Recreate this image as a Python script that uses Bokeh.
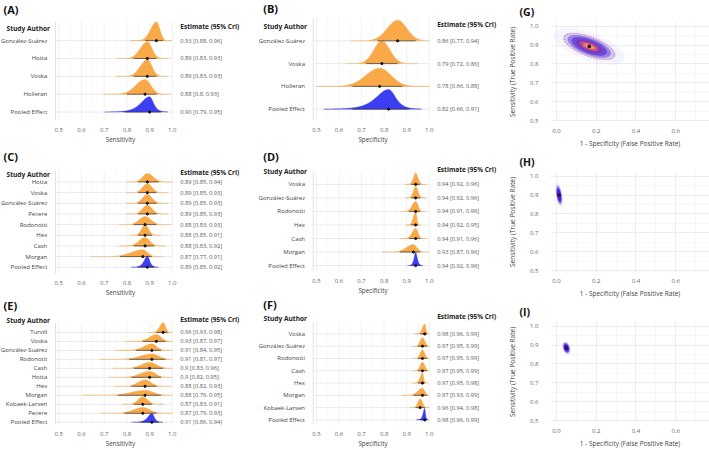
import numpy as np
from bokeh.plotting import figure
from bokeh.models import Range1d, FixedTicker, PrintfTickFormatter
from bokeh.layouts import row, column
from bokeh.embed import file_html
from bokeh.resources import INLINE
from bokeh.core.properties import value

FONT = "Open Sans"

# ---------------- data ----------------
forest_ticks = [0.5, 0.6, 0.7, 0.8, 0.9, 1.0]
forest_minor = [0.55, 0.65, 0.75, 0.85, 0.95]
sroc_xticks = [0.0, 0.2, 0.4, 0.6]
sroc_xminor = [0.1, 0.3, 0.5, 0.7]
sroc_yticks = [0.5, 0.6, 0.7, 0.8, 0.9, 1.0]
sroc_yminor = [0.55, 0.65, 0.75, 0.85, 0.95]

a_studies = ["González-Suárez", "Hotta", "Voska", "Holleran", "Pooled Effect"]
a_est = [0.93, 0.89, 0.89, 0.88, 0.90]
a_lo = [0.88, 0.83, 0.83, 0.80, 0.79]
a_hi = [0.96, 0.93, 0.93, 0.93, 0.95]
a_text = ["0.93 [0.88, 0.96]", "0.89 [0.83, 0.93]", "0.89 [0.83, 0.93]",
          "0.88 [0.8, 0.93]", "0.90 [0.79, 0.95]"]

b_studies = ["González-Suárez", "Voska", "Holleran", "Pooled Effect"]
b_est = [0.86, 0.79, 0.78, 0.82]
b_lo = [0.77, 0.72, 0.66, 0.66]
b_hi = [0.94, 0.86, 0.88, 0.91]
b_text = ["0.86 [0.77, 0.94]", "0.79 [0.72, 0.86]", "0.78 [0.66, 0.88]", "0.82 [0.66, 0.91]"]

c_studies = ["Hotta", "Voska", "González-Suárez", "Pecere", "Rodonotti", "Hex", "Cash",
             "Morgan", "Pooled Effect"]
c_est = [0.89, 0.89, 0.89, 0.89, 0.88, 0.88, 0.88, 0.87, 0.89]
c_lo = [0.85, 0.85, 0.85, 0.85, 0.83, 0.85, 0.83, 0.77, 0.85]
c_hi = [0.94, 0.93, 0.93, 0.93, 0.93, 0.91, 0.92, 0.91, 0.92]
c_text = ["0.89 [0.85, 0.94]", "0.89 [0.85, 0.93]", "0.89 [0.85, 0.93]", "0.89 [0.85, 0.93]",
          "0.88 [0.83, 0.93]", "0.88 [0.85, 0.91]", "0.88 [0.83, 0.92]", "0.87 [0.77, 0.91]",
          "0.89 [0.85, 0.92]"]

d_studies = ["Voska", "González-Suárez", "Rodonotti", "Hex", "Cash", "Morgan", "Pooled Effect"]
d_est = [0.94, 0.94, 0.94, 0.94, 0.94, 0.93, 0.94]
d_lo = [0.92, 0.92, 0.91, 0.92, 0.91, 0.87, 0.92]
d_hi = [0.96, 0.96, 0.96, 0.95, 0.96, 0.96, 0.96]
d_text = ["0.94 [0.92, 0.96]", "0.94 [0.92, 0.96]", "0.94 [0.91, 0.96]", "0.94 [0.92, 0.95]",
          "0.94 [0.91, 0.96]", "0.93 [0.87, 0.96]", "0.94 [0.92, 0.96]"]

e_studies = ["Turvill", "Voska", "González-Suárez", "Rodonotti", "Cash", "Hotta", "Hex",
             "Morgan", "Kobaek-Larsen", "Pecere", "Pooled Effect"]
e_est = [0.96, 0.93, 0.91, 0.91, 0.90, 0.90, 0.88, 0.88, 0.87, 0.87, 0.91]
e_lo = [0.93, 0.87, 0.84, 0.81, 0.83, 0.82, 0.82, 0.76, 0.83, 0.79, 0.86]
e_hi = [0.98, 0.97, 0.95, 0.97, 0.96, 0.95, 0.93, 0.95, 0.91, 0.93, 0.94]
e_text = ["0.96 [0.93, 0.98]", "0.93 [0.87, 0.97]", "0.91 [0.84, 0.95]", "0.91 [0.81, 0.97]",
          "0.9 [0.83, 0.96]", "0.9 [0.82, 0.95]", "0.88 [0.82, 0.93]", "0.88 [0.76, 0.95]",
          "0.87 [0.83, 0.91]", "0.87 [0.79, 0.93]", "0.91 [0.86, 0.94]"]

f_studies = ["Voska", "González-Suárez", "Rodonotti", "Cash", "Hex", "Morgan", "Kobaek-Larsen",
             "Pooled Effect"]
f_est = [0.98, 0.97, 0.97, 0.97, 0.97, 0.97, 0.96, 0.98]
f_lo = [0.96, 0.95, 0.95, 0.95, 0.95, 0.93, 0.94, 0.96]
f_hi = [0.99, 0.99, 0.99, 0.99, 0.98, 0.99, 0.98, 0.99]
f_text = ["0.98 [0.96, 0.99]", "0.97 [0.95, 0.99]", "0.97 [0.95, 0.99]", "0.97 [0.95, 0.99]",
          "0.97 [0.95, 0.98]", "0.97 [0.93, 0.99]", "0.96 [0.94, 0.98]", "0.98 [0.96, 0.99]"]

g_fpr, g_sens, g_sd_fpr, g_sd_sens, g_rho = 0.165, 0.893, 0.051, 0.028, -0.62
h_fpr, h_sens, h_sd_fpr, h_sd_sens, h_rho = 0.013, 0.900, 0.0058, 0.019, -0.45
i_fpr, i_sens, i_sd_fpr, i_sd_sens, i_rho = 0.050, 0.885, 0.0068, 0.011, -0.30

ORANGE = "#FAA948"
BLUE = "#3D3DF2"


def forest(letter, studies, est, lo, hi, texts, xlabel, g):
    X0, W, Y0, H, Bb = g["X0"], g["W"], g["Y0"], g["H"], g["Bb"]
    p05, p10 = g["p05"], g["p10"]
    ppu = (p10 - p05) / 0.5
    r0, sp, S = g["r0"], g["sp"], g["S"]

    def fx(px):
        return 0.5 + (px - p05) / ppu

    def fy(py):
        return (py - r0) / sp

    fb = Y0 + H - Bb
    p = figure(width=W, height=H, x_range=Range1d(fx(X0), fx(X0 + W)),
               y_range=Range1d(fy(fb), fy(Y0)), toolbar_location=None, tools="",
               output_backend="svg", y_axis_location=None,
               min_border_left=0, min_border_right=0, min_border_top=0, min_border_bottom=Bb)
    p.grid.visible = False
    p.outline_line_color = None
    p.background_fill_color = "white"
    p.border_fill_color = "white"

    n = len(studies)
    idx = list(range(n))
    ybot = fy(fb)
    ytop = -S
    left_edge = fx(p05 - 3.3)

    # grid
    p.segment(x0=forest_minor, x1=forest_minor, y0=[ybot] * len(forest_minor),
              y1=[ytop] * len(forest_minor), line_color="#eeeeee", line_width=0.7, line_dash="1 1")
    p.segment(x0=forest_ticks, x1=forest_ticks, y0=[ybot] * len(forest_ticks),
              y1=[ytop] * len(forest_ticks), line_color="#dcdcdc", line_width=0.8, line_dash="1 1")
    p.segment(x0=[left_edge], x1=[left_edge], y0=[ybot], y1=[ytop], line_color="#b5b5b5",
              line_width=0.8, line_dash="1 1")
    p.segment(x0=[left_edge] * n, x1=[1.0] * n, y0=idx, y1=idx, line_color="#e4e4e4",
              line_width=0.8)

    # ridges
    peaks, params = [], []
    for i in idx:
        pooled = studies[i] == "Pooled Effect"
        q = 2.776 if pooled else 1.96
        sl = (est[i] - lo[i]) / q
        sr = (hi[i] - est[i]) / q
        c = 0.375 if pooled else 0.3989
        peaks.append(2 * c / (sl + sr))
        params.append((pooled, sl, sr))
    pmax = max(peaks)
    xs_l, ys_l, cols = [], [], []
    for i in idx:
        pooled, sl, sr = params[i]
        span_l = 5 if pooled else 4.5
        xg = np.linspace(est[i] - span_l * sl, min(est[i] + 4.5 * sr, 1.0), 240)
        z = np.where(xg < est[i], (xg - est[i]) / sl, (xg - est[i]) / sr)
        if pooled:
            d = (1 + z ** 2 / 4.0) ** (-2.5)
        else:
            d = np.exp(-0.5 * z ** 2)
        h = S * np.sqrt(peaks[i] / pmax)
        yy = i - h * d
        xs_l.append(np.concatenate([xg, xg[::-1]]))
        ys_l.append(np.concatenate([yy, np.full(len(xg), float(i))]))
        cols.append(BLUE if pooled else ORANGE)
    p.patches(xs_l, ys_l, fill_color=cols, line_color=cols, line_width=0.3)

    # credible intervals and point estimates
    p.segment(x0=lo, x1=hi, y0=idx, y1=idx, line_color="#333333", line_width=0.7)
    p.scatter(x=est, y=idx, size=2.2, color="#111111")

    # texts
    p.text(x=[fx(p05 - 11.5)] * n, y=idx, text=studies, text_align="right",
           text_baseline="middle", text_font=value(FONT), text_font_size=value("6px"),
           text_color="#444444")
    p.text(x=[fx(p10 + 8)] * n, y=idx, text=texts, text_align="left",
           text_baseline="middle", text_font=value(FONT), text_font_size=value("5.7px"),
           text_color="#555555")
    p.text(x=[fx(g["sa_x"])], y=[fy(g["sa_y"])], text=["Study Author"], text_align="left",
           text_baseline="middle", text_font=value(FONT), text_font_size=value("6.6px"),
           text_font_style="bold", text_color="#222222")
    p.text(x=[fx(p10 + 8)], y=[fy(g["eh_y"])], text=["Estimate (95% CrI)"], text_align="left",
           text_baseline="middle", text_font=value(FONT), text_font_size=value("6.5px"),
           text_font_style="bold", text_color="#222222")
    p.text(x=[fx(g["lx"])], y=[fy(g["ly"])], text=[letter], text_align="left",
           text_baseline="middle", text_font=value(FONT), text_font_size=value("11px"),
           text_font_style="bold", text_color="#111111")

    ax = p.xaxis[0]
    ax.ticker = FixedTicker(ticks=forest_ticks)
    ax.formatter = PrintfTickFormatter(format="%.1f")
    ax.bounds = (0.5, 2 * fx(p05 + 63.5) - 0.5)
    ax.axis_line_color = None
    ax.major_tick_line_color = None
    ax.minor_tick_line_color = None
    ax.major_label_standoff = 1
    ax.axis_label = xlabel
    ax.axis_label_standoff = 0
    ax.major_label_text_font = FONT
    ax.major_label_text_font_size = "6px"
    ax.major_label_text_color = "#666666"
    ax.axis_label_text_font = FONT
    ax.axis_label_text_font_size = "6.3px"
    ax.axis_label_text_font_style = "normal"
    ax.axis_label_text_color = "#444444"
    return p


def sroc(letter, cx, cy, sx, sy, rho, ramp, alphas, levels, dotted):
    W, H = 204, 150
    p = figure(width=W, height=H, x_range=Range1d(-0.03, 0.77),
               y_range=Range1d(0.5 - 2 / 202, 1.0 + 5 / 202), toolbar_location=None, tools="",
               output_backend="svg", min_border_left=44, min_border_right=0,
               min_border_top=20, min_border_bottom=22)
    p.outline_line_color = None
    p.background_fill_color = "white"
    p.border_fill_color = "white"
    p.xgrid.ticker = FixedTicker(ticks=sroc_xticks, minor_ticks=sroc_xminor)
    p.ygrid.ticker = FixedTicker(ticks=sroc_yticks, minor_ticks=sroc_yminor)
    for gr in (p.xgrid[0], p.ygrid[0]):
        gr.grid_line_color = "#e8e8e8"
        gr.grid_line_width = 0.8
        gr.minor_grid_line_color = "#f3f3f3"
        gr.minor_grid_line_width = 0.7

    t = np.linspace(0, 2 * np.pi, 120)
    xs_l, ys_l = [], []
    for k in levels:
        u = k * np.cos(t)
        v = k * np.sin(t)
        xs_l.append(cx + sx * u)
        ys_l.append(cy + sy * (rho * u + np.sqrt(1 - rho ** 2) * v))
    p.patches(xs_l, ys_l, fill_color=ramp, fill_alpha=alphas, line_color=None)
    if dotted:
        k = 2.45
        u = k * np.cos(t)
        v = k * np.sin(t)
        p.line(cx + sx * u, cy + sy * (rho * u + np.sqrt(1 - rho ** 2) * v),
               line_color="#e5806c", line_width=1.1, line_dash="1 2")
    p.scatter(x=[cx], y=[cy], size=3, color="#3b0f4f")

    xa, ya = p.xaxis[0], p.yaxis[0]
    xa.ticker = FixedTicker(ticks=sroc_xticks)
    ya.ticker = FixedTicker(ticks=sroc_yticks)
    xa.formatter = PrintfTickFormatter(format="%.1f")
    ya.formatter = PrintfTickFormatter(format="%.1f")
    xa.bounds = (-0.03, 0.67)
    xa.axis_label = "1 - Specificity (False Positive Rate)"
    ya.axis_label = "Sensitivity (True Positive Rate)"
    xa.major_label_standoff = 0
    xa.axis_label_standoff = 3
    ya.major_label_standoff = 6
    ya.axis_label_standoff = 10
    for a in (xa, ya):
        a.axis_line_color = None
        a.major_tick_line_color = None
        a.minor_tick_line_color = None
        a.major_label_text_font = FONT
        a.major_label_text_font_size = "6px"
        a.major_label_text_color = "#666666"
        a.axis_label_text_font = FONT
        a.axis_label_text_font_size = "6.5px"
        a.axis_label_text_font_style = "normal"
        a.axis_label_text_color = "#444444"

    p.title.text = letter
    p.title.text_font = FONT
    p.title.text_font_size = "10.5px"
    p.title.text_font_style = "bold"
    p.title.text_color = "#111111"
    p.title.align = "left"
    p.title.offset = -31
    p.title.standoff = 5
    return p


col1 = dict(X0=0, W=240, p05=58.3, p10=171.8, lx=3, sa_x=6)
col2 = dict(X0=240, W=265, p05=316.0, p10=428.7, lx=262.7, sa_x=263)

gA = dict(col1, Y0=0, H=146, Bb=18, r0=42.8, sp=19.05, S=1.05, ly=9.5, sa_y=29.5, eh_y=27.7)
gC = dict(col1, Y0=146, H=153, Bb=18, r0=183.7, sp=11.33, S=1.05, ly=157, sa_y=175.7, eh_y=173.3)
gE = dict(col1, Y0=299, H=151, Bb=23, r0=332.7, sp=9.2, S=1.08, ly=305, sa_y=321, eh_y=319.3)
gB = dict(col2, Y0=0, H=146, Bb=18, r0=43.0, sp=24.3, S=1.0, ly=8.5, sa_y=27.7, eh_y=25.7)
gD = dict(col2, Y0=146, H=151, Bb=18, r0=186.3, sp=14.4, S=0.97, ly=156.5, sa_y=172.3, eh_y=170)
gF = dict(col2, Y0=297, H=153, Bb=23, r0=334.3, sp=12.57, S=0.95, ly=304, sa_y=319, eh_y=316.7)

pA = forest("(A)", a_studies, a_est, a_lo, a_hi, a_text, "Sensitivity", gA)
pB = forest("(B)", b_studies, b_est, b_lo, b_hi, b_text, "Specificity", gB)
pC = forest("(C)", c_studies, c_est, c_lo, c_hi, c_text, "Sensitivity", gC)
pD = forest("(D)", d_studies, d_est, d_lo, d_hi, d_text, "Specificity", gD)
pE = forest("(E)", e_studies, e_est, e_lo, e_hi, e_text, "Sensitivity", gE)
pF = forest("(F)", f_studies, f_est, f_lo, f_hi, f_text, "Specificity", gF)

ramp_g = ["#e2dcf9", "#b8aaf1", "#8d76e6", "#6c48d4", "#7d36b8", "#b84a92", "#e27c62", "#f4a84a"]
alpha_g = [0.3, 0.55, 0.85, 0.95, 1, 1, 1, 1]
lev_g = [3.5, 2.6, 2.15, 1.75, 1.3, 0.95, 0.62, 0.38]
ramp_h = ["#ddd6f8", "#a999f2", "#6f55e8", "#4a2ae0", "#4a1ed0", "#6a22c0", "#8e2eaa", "#a8389c"]
alpha_h = [0.35, 0.6, 0.85, 1, 1, 1, 1, 1]
lev_h = [3.4, 2.8, 2.3, 1.8, 1.3, 0.9, 0.55, 0.3]

pG = sroc("(G)", g_fpr, g_sens, g_sd_fpr, g_sd_sens, g_rho, ramp_g, alpha_g, lev_g, True)
pH = sroc("(H)", h_fpr, h_sens, h_sd_fpr, h_sd_sens, h_rho, ramp_h, alpha_h, lev_h, False)
pI = sroc("(I)", i_fpr, i_sens, i_sd_fpr, i_sd_sens, i_rho, ramp_h, alpha_h, lev_h, False)

layout = row(column(pA, pC, pE), column(pB, pD, pF), column(pG, pH, pI))

open("out.html", "w").write(file_html(layout, INLINE))
